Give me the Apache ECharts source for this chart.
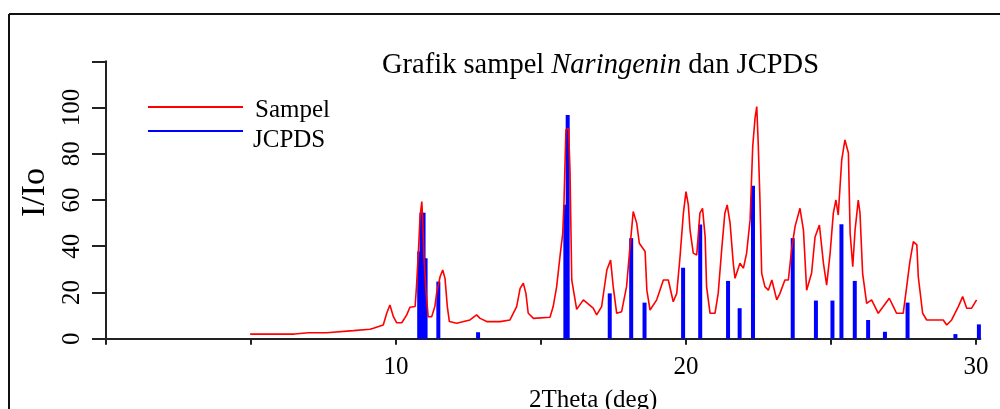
<!DOCTYPE html>
<html>
<head>
<meta charset="utf-8">
<script src="https://cdn.jsdelivr.net/npm/echarts@6/dist/echarts.min.js"></script>
<style>
html,body{margin:0;padding:0;background:#fff;}
#chart{width:1000px;height:409px;}
</style>
</head>
<body>
<div id="chart"></div>
<script>
// Sample XRD trace (2Theta, I/Io)
var sampelX = [4.97,6.50,6.98,7.61,8.53,9.10,9.22,9.56,9.68,9.79,9.91,10.02,10.20,10.37,10.48,10.66,10.71,10.77,10.83,10.89,10.92,10.97,11.03,11.11,11.23,11.34,11.40,11.52,11.61,11.69,11.77,11.84,12.09,12.55,12.78,12.90,13.13,13.59,13.93,14.16,14.28,14.39,14.48,14.56,14.74,15.31,15.42,15.54,15.66,15.75,15.79,15.86,15.95,16.00,16.06,16.23,16.46,16.80,16.92,17.09,17.27,17.40,17.49,17.61,17.78,17.95,18.05,18.18,18.30,18.39,18.59,18.65,18.76,18.99,19.22,19.39,19.56,19.68,19.79,19.91,20.00,20.08,20.14,20.25,20.37,20.48,20.57,20.66,20.71,20.83,21.00,21.11,21.23,21.34,21.42,21.52,21.63,21.69,21.86,21.98,22.09,22.21,22.30,22.38,22.44,22.49,22.55,22.61,22.72,22.84,22.96,23.13,23.24,23.41,23.53,23.64,23.76,23.93,24.05,24.16,24.33,24.45,24.60,24.74,24.85,24.97,25.08,25.17,25.25,25.37,25.48,25.60,25.66,25.75,25.83,25.94,26.00,26.09,26.23,26.40,26.63,26.80,27.01,27.15,27.26,27.49,27.61,27.72,27.84,27.96,28.01,28.16,28.30,28.87,28.99,29.16,29.39,29.54,29.68,29.85,30.02];
var sampelY = [2.0,2.0,2.6,2.6,3.5,4.1,4.5,5.9,11,14.6,9.5,6.9,6.9,10.3,13.6,13.9,23.2,37,52.8,59.3,51.4,34,21,9.5,9.5,13.9,19.6,26.8,29.7,26.1,13.9,7.4,6.7,8.1,10.3,8.8,7.4,7.4,8.1,13.9,21.8,24,19.6,11,8.8,9.3,13.9,22.5,36.2,45.6,57.9,90.4,91,73,25.4,12.7,16.8,13.2,10.3,13.9,29.7,34,22.5,11,11.7,22.5,37,55,50,41.3,37.7,21,12.4,16.8,25.4,25.4,16,19.6,34.8,54.3,63.6,57.9,47,37,36.2,54.3,56.4,44,22.5,11,11,19.6,38.4,54.3,57.9,50,32.6,26.1,32.6,30.5,37,51.4,83,95.4,100.4,84.6,60,28.3,22.5,21,25.4,16.8,19.6,25.4,25.4,38.4,48.5,56.4,47,21,28.3,44,49.2,32.6,23.2,37,54.3,60,53.5,77.4,86,80.3,45.6,31.2,47,60,54.3,28.3,15.3,16.8,11,13.9,17.5,13.9,11,11,22.5,33.3,42,40.6,26.8,11,8.1,8.1,5.9,8.1,13.9,18.2,13.2,13.2,16.8];

// JCPDS reference lines
var jcpdsX = [10.80,10.88,10.95,11.02,11.46,12.83,15.84,15.92,17.37,18.11,18.57,19.90,20.49,21.45,21.85,22.31,23.68,24.48,25.05,25.36,25.82,26.28,26.86,27.64,29.29,30.10];
var jcpdsY = [37.7,54.5,54.5,34.8,24.7,2.8,57.9,96.8,19.6,43.5,15.6,30.7,49.4,25,13.2,66.2,43.5,16.5,16.5,49.5,25,8.1,3,15.6,2,6.2];

var xTicks = [0,5,10,15,20,25,30];
var xLabels = [10,20,30];
var yLabels = [0,20,40,60,80,100];
var legendNames = ['Sampel', 'JCPDS'];

var FONT = "'Liberation Serif', 'Times New Roman', serif";

var sampelData = sampelX.map(function(x,i){return [x, sampelY[i]];});
var jcpdsData = jcpdsX.map(function(x,i){return [x, jcpdsY[i]];});

var chart = echarts.init(document.getElementById('chart'), null, {renderer:'canvas'});
chart.setOption({
  animation: false,
  backgroundColor: '#fff',
  title: {
    text: '{a|Grafik sampel }{b|Naringenin}{a| dan JCPDS}',
    left: 382, top: 51.5, padding: 0,
    textStyle: {
      fontWeight: 'normal',
      rich: {
        a: {fontFamily: FONT, fontSize: 28.5, color: '#000', fontWeight: 'normal', lineHeight: 29},
        b: {fontFamily: FONT, fontSize: 28.5, color: '#000', fontWeight: 'normal', fontStyle: 'italic', lineHeight: 29}
      }
    }
  },
  grid: {left: 106, right: 19.65, top: 61.3, bottom: 70.3, containLabel: false, outerBoundsMode: 'none'},
  xAxis: {
    type: 'value', min: 0, max: 30.15,
    name: '2Theta (deg)', nameLocation: 'middle', nameGap: 49,
    nameTextStyle: {fontFamily: FONT, fontSize: 25, color: '#000', fontWeight: 'normal', padding: [0,0,0,100]},
    axisLine: {show: true, onZero: false, lineStyle: {color: '#222', width: 2}},
    axisTick: {show: true, length: 6, lineStyle: {color: '#222', width: 2}, customValues: xTicks},
    axisLabel: {show: true, margin: 16, fontFamily: FONT, fontSize: 25, color: '#000', customValues: xLabels},
    splitLine: {show: false}
  },
  yAxis: {
    type: 'value', min: 0, max: 120, interval: 20,
    name: 'I/Io', nameLocation: 'middle', nameRotate: 90, nameGap: 41,
    nameTextStyle: {fontFamily: FONT, fontSize: 34, color: '#000', fontWeight: 'normal', padding: [0,0,0,15]},
    axisLine: {show: true, onZero: false, lineStyle: {color: '#222', width: 2}},
    axisTick: {show: true, length: 14, lineStyle: {color: '#222', width: 2}},
    axisLabel: {show: true, rotate: 90, margin: 21, fontFamily: FONT, fontSize: 25, color: '#000', customValues: yLabels},
    splitLine: {show: false}
  },
  series: [
    {name: 'JCPDS', type: 'bar', data: jcpdsData, barWidth: 4, color: '#0000ff', itemStyle: {color: '#0000ff'}, z: 2},
    {name: 'Sampel', type: 'line', data: sampelData, color: '#ff0000', showSymbol: false, symbol: 'none',
     lineStyle: {color: '#ff0000', width: 1.6}, z: 3}
  ],
  graphic: [
    {type: 'line', shape: {x1: 9, y1: 14, x2: 1000, y2: 14}, style: {stroke: '#111', lineWidth: 2}},
    {type: 'line', shape: {x1: 9, y1: 14, x2: 9, y2: 409}, style: {stroke: '#111', lineWidth: 2}},
    {type: 'line', shape: {x1: 148, y1: 107, x2: 243, y2: 107}, style: {stroke: '#ff0000', lineWidth: 2}},
    {type: 'line', shape: {x1: 148, y1: 131, x2: 243, y2: 131}, style: {stroke: '#0000ff', lineWidth: 2}},
    {type: 'text', x: 255, y: 110, style: {text: legendNames[0], font: "25px " + FONT, fill: '#000', textVerticalAlign: 'middle'}},
    {type: 'text', x: 253, y: 140, style: {text: legendNames[1], font: "25px " + FONT, fill: '#000', textVerticalAlign: 'middle'}}
  ]
});
</script>
</body>
</html>
